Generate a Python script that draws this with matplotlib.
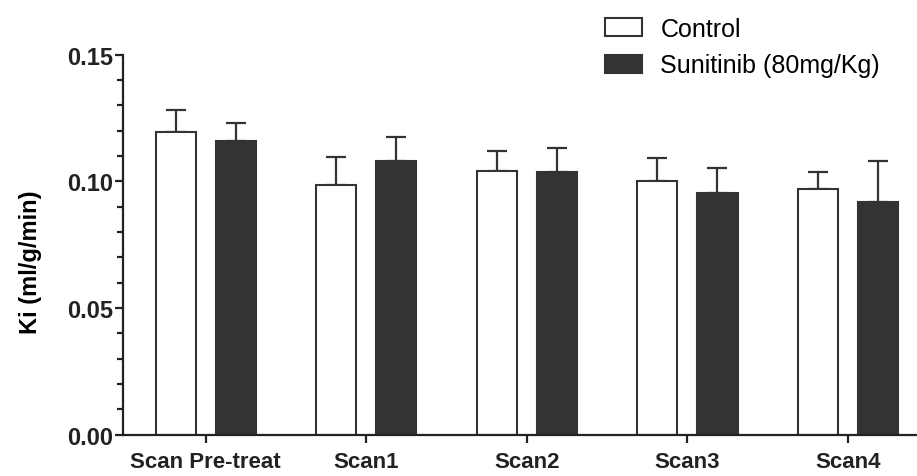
import matplotlib
matplotlib.use("Agg")
import matplotlib.pyplot as plt
import numpy as np
from matplotlib.ticker import MultipleLocator

plt.rcParams['font.family'] = ['Liberation Sans', 'DejaVu Sans']

categories = ["Scan Pre-treat", "Scan1", "Scan2", "Scan3", "Scan4"]
control = [0.1196, 0.0986, 0.1040, 0.1003, 0.0971]
control_err = [0.0087, 0.0109, 0.0079, 0.0091, 0.0067]
sunitinib = [0.1158, 0.1082, 0.1036, 0.0953, 0.0917]
sunitinib_err = [0.0072, 0.0092, 0.0096, 0.0100, 0.0165]

dark = "#333333"
x = np.arange(len(categories))
w = 0.25
off = 0.187

fig = plt.figure(figsize=(9.17, 4.77), dpi=100)
ax = fig.add_axes([0.1341, 0.087, 0.866, 0.796])

ax.bar(x - off, control, w, color="white", edgecolor=dark, linewidth=1.5,
       label="Control", zorder=2)
ax.bar(x + off, sunitinib, w, color=dark, edgecolor=dark, linewidth=1.5,
       label="Sunitinib (80mg/Kg)", zorder=2)

# only the upper half of the error bars is drawn
ax.errorbar(x - off, control, yerr=[np.zeros(len(x)), control_err], fmt="none",
            ecolor=dark, elinewidth=1.6, capsize=7.5, capthick=1.6, zorder=1)
ax.errorbar(x + off, sunitinib, yerr=[np.zeros(len(x)), sunitinib_err], fmt="none",
            ecolor=dark, elinewidth=1.6, capsize=7.5, capthick=1.6, zorder=1)

ax.set_xlim(-0.515, 4.43)
ax.set_ylim(0, 0.15)
ax.yaxis.set_major_locator(MultipleLocator(0.05))
ax.yaxis.set_minor_locator(MultipleLocator(0.01))
ax.yaxis.set_major_formatter(matplotlib.ticker.FormatStrFormatter("%.2f"))
ax.set_xticks(x)
ax.set_xticklabels(categories, fontsize=16, fontweight="bold")
for lab in ax.get_yticklabels():
    lab.set_fontsize(17)
    lab.set_fontweight("bold")

for s in ["top", "right"]:
    ax.spines[s].set_visible(False)
for s in ["left", "bottom"]:
    ax.spines[s].set_linewidth(1.6)
    ax.spines[s].set_color("#222222")

ax.tick_params(axis="y", which="major", length=6, width=1.6, pad=1, colors="#222222")
ax.tick_params(axis="y", which="minor", length=4, width=1.6, colors="#222222")
ax.tick_params(axis="x", which="major", length=6, width=1.6, pad=6, colors="#222222")

ax.set_ylabel("Ki (ml/g/min)", fontsize=17, fontweight="bold", va="center")
ax.yaxis.set_label_coords(-0.117, 0.457)

ax.legend(loc="upper left", bbox_to_anchor=(0.652, 0.978), bbox_transform=fig.transFigure,
          frameon=False, fontsize=18, handlelength=1.45, handleheight=0.72,
          handletextpad=0.75, labelspacing=0.5, borderaxespad=0, borderpad=0.3)

fig.savefig("out.png", dpi=100)
